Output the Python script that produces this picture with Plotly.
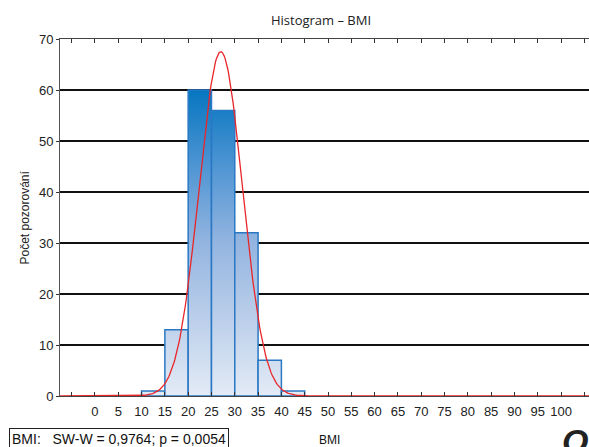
import numpy as np
import plotly.graph_objects as go

# Data
bin_edges = [10, 15, 20, 25, 30, 35, 40, 45]
counts = [1, 13, 60, 56, 32, 7, 1]
fit_mean = 27.0      # fitted normal curve
fit_sd = 4.65
fit_peak = 67.5
x_tick_vals = list(range(-5, 110, 5))
x_tick_text = ["" if (v < 0 or v > 100) else str(v) for v in x_tick_vals]
y_tick_vals = list(range(0, 80, 10))

title = "Histogram – BMI"
x_title = "BMI"
y_title = "Počet pozorování"
stat_text = "BMI:   SW-W = 0,9764; p = 0,0054"

fig = go.Figure()

grad = [[0.0, "#e3ebf6"], [0.25, "#bccfea"], [0.5, "#94b5e0"],
        [0.75, "#4f95d3"], [1.0, "#0676c0"]]

for i, c in enumerate(counts):
    x0, x1 = bin_edges[i], bin_edges[i + 1]
    fig.add_trace(go.Scatter(
        x=[x0, x0, x1, x1, x0], y=[0, c, c, 0, 0],
        mode="lines", fill="toself",
        fillgradient=dict(type="vertical", colorscale=grad, start=0, stop=60),
        line=dict(color="#2a78c4", width=1.5),
        hoverinfo="skip", showlegend=False))

xs = np.linspace(-7.5, 106, 600)
ys = fit_peak * np.exp(-0.5 * ((xs - fit_mean) / fit_sd) ** 2)
fig.add_trace(go.Scatter(x=xs, y=ys, mode="lines",
                         line=dict(color="#e8262a", width=1.3),
                         hoverinfo="skip", showlegend=False))

fig.update_layout(
    width=589, height=447,
    margin=dict(l=60, r=0, t=39, b=51, autoexpand=False),
    paper_bgcolor="white", plot_bgcolor="white",
    font=dict(family="Liberation Sans, Arial", size=13, color="#222"),
    title=dict(text=title, x=0.545, xanchor="center", y=0.955, yanchor="middle",
               font=dict(family="Open Sans", size=13, color="#222")),
    showlegend=False,
)
fig.update_xaxes(
    range=[-7.5, 106], tickmode="array", tickvals=x_tick_vals, ticktext=x_tick_text,
    ticks="inside", ticklen=4, tickcolor="#333", mirror="ticks", automargin=False,
    showline=True, linecolor="#444", linewidth=1, showgrid=False, zeroline=False,
    tickfont=dict(size=13), ticklabelstandoff=3,
)
fig.update_yaxes(
    range=[0, 70], tickmode="array", tickvals=y_tick_vals, automargin=False,
    ticks="outside", ticklen=3, tickcolor="#333",
    showline=True, linecolor="#555", linewidth=1,
    showgrid=True, gridcolor="#111", gridwidth=2, zeroline=False,
    tickfont=dict(size=13),
)

fig.add_annotation(text=y_title, xref="paper", yref="paper", x=-0.068, y=0.5,
                   xanchor="center", yanchor="middle", textangle=-90, showarrow=False,
                   font=dict(size=12, color="#222"))
fig.add_annotation(text=x_title, xref="paper", yref="paper", x=0.51, y=-0.098,
                   xanchor="center", yanchor="top", showarrow=False,
                   font=dict(size=12, color="#111"))
fig.add_annotation(text=stat_text, xref="paper", yref="paper", x=-0.0964, y=-0.09,
                   xanchor="left", yanchor="top", showarrow=False,
                   bordercolor="#222", borderwidth=1, borderpad=2, bgcolor="white",
                   font=dict(size=14, color="#111"))
fig.add_annotation(text="Ol", xref="paper", yref="paper", x=0.945, y=-0.066,
                   xanchor="left", yanchor="top", showarrow=False,
                   font=dict(family="Liberation Sans", size=34, color="#222",
                             weight="bold", style="italic"))

fig.write_html("out.html", config={"displayModeBar": False},
               post_script="document.body.style.margin='0px';document.body.style.overflow='hidden';")
